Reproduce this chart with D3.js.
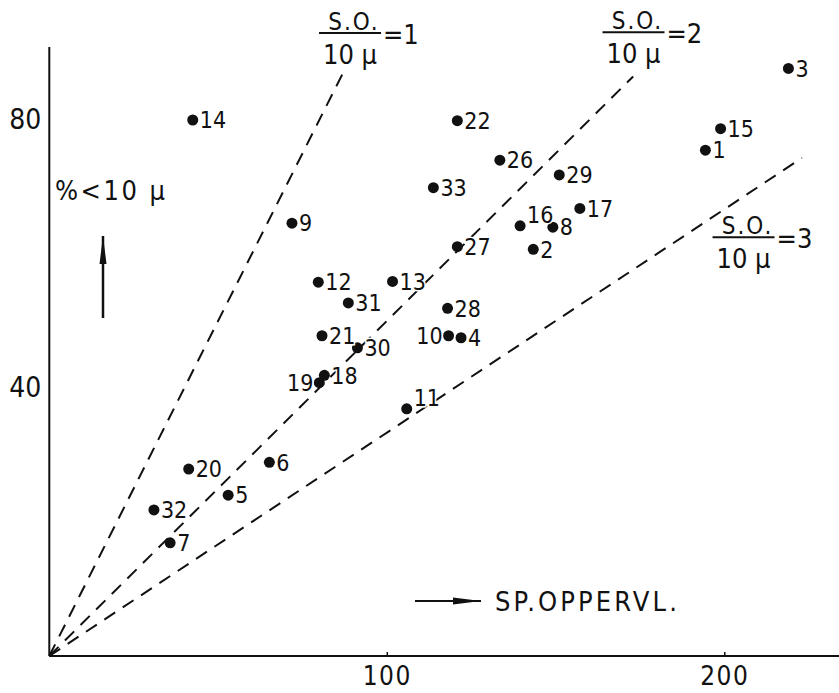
<!DOCTYPE html>
<html>
<head>
<meta charset="utf-8">
<script src="https://cdn.jsdelivr.net/npm/d3@7"></script>
<style>
  html, body { margin: 0; padding: 0; background: #fff; }
  svg { display: block; }
  text { font-family: "DejaVu Sans Condensed", "DejaVu Sans", sans-serif; font-stretch: condensed; fill: #111; }
</style>
</head>
<body>
<svg id="chart" width="839" height="693"></svg>
<script>
// ---- data ----
const sampleIds = ["1","2","3","4","5","6","7","8","9","10","11","12","13","14","15","16","17","18","19","20","21","22","26","27","28","29","30","31","32","33"];
const specSurface = [194.4,143.4,219.0,122.0,53.0,65.2,35.8,149.2,71.9,118.3,105.9,79.7,101.7,42.5,198.9,139.5,157.2,81.5,80.0,41.3,80.8,120.9,133.5,120.9,118.0,151.1,91.3,88.6,31.0,113.8];
const pctBelow10 = [75.5,60.7,87.7,47.5,24.0,28.9,16.9,64.0,64.6,47.8,36.9,55.8,55.9,80.0,78.7,64.2,66.8,41.9,40.8,27.9,47.8,79.9,74.0,61.1,51.9,71.8,46.0,52.7,21.8,69.9];
const xTicks = [100, 200];
const yTicks = [40, 80];
const ratios = [1, 2, 3];          // S.O. / 10µ
const ratioLineEndX = [87, 173, 223];
const ratioLabelAt = [[89.1, 93.0], [173.1, 93.1], [205.7, 62.5]]; // data coords of fraction bar centre
const labelsLeft = ["10", "19"];
const labelsRaised = ["11", "16"];

// ---- drawing ----
const svg = d3.select("#chart");
const W = 839;
const x = d3.scaleLinear().domain([0, 200]).range([49.3, 724.3]);
const y = d3.scaleLinear().domain([0, 80]).range([656, 120]);

// axes lines
svg.append("line").attr("x1", x(0)).attr("x2", W).attr("y1", y(0)).attr("y2", y(0))
  .attr("stroke", "#111").attr("stroke-width", 2);
svg.append("line").attr("x1", x(0)).attr("x2", x(0)).attr("y1", y(0)).attr("y2", 47)
  .attr("stroke", "#111").attr("stroke-width", 2);

const xAxis = svg.append("g").attr("transform", `translate(0,${y(0)})`)
  .call(d3.axisBottom(x).tickValues(xTicks).tickSizeInner(-4).tickSizeOuter(0).tickPadding(11).tickFormat(d3.format("d")));
xAxis.select(".domain").remove();
xAxis.selectAll(".tick line").attr("stroke", "#111").attr("stroke-width", 1.5);
xAxis.selectAll("text").attr("font-size", 26).attr("font-family", null).attr("fill", "#111").attr("letter-spacing", 1.5);

const yAxis = svg.append("g").attr("transform", `translate(${x(0)},0)`)
  .call(d3.axisLeft(y).tickValues(yTicks).tickSize(0).tickPadding(8).tickFormat(d3.format("d")));
yAxis.select(".domain").remove();
yAxis.selectAll("text").attr("font-size", 28).attr("font-family", null).attr("fill", "#111");

// ratio lines
const line = d3.line().x(d => x(d[0])).y(d => y(d[1]));
ratios.forEach((r, i) => {
  svg.append("path")
    .attr("d", line([[0, 0], [ratioLineEndX[i], ratioLineEndX[i] / r]]))
    .attr("fill", "none").attr("stroke", "#111").attr("stroke-width", 2)
    .attr("stroke-dasharray", "13,9");
});

// ratio labels
ratios.forEach((r, i) => {
  const cx = x(ratioLabelAt[i][0]), cy = y(ratioLabelAt[i][1]);
  const g = svg.append("g");
  g.append("line").attr("x1", cx - 31).attr("x2", cx + 31).attr("y1", cy).attr("y2", cy)
    .attr("stroke", "#111").attr("stroke-width", 2);
  g.append("text").attr("x", cx + 4).attr("y", cy - 3).attr("text-anchor", "middle")
    .attr("font-size", 24).attr("letter-spacing", 2).text("S.O.");
  g.append("text").attr("x", cx).attr("y", cy + 31).attr("text-anchor", "middle")
    .attr("font-size", 27).text("10 μ");
  g.append("text").attr("x", cx + 33).attr("y", cy + 11).attr("font-size", 27)
    .text("=" + r);
});

// points
const pts = sampleIds.map((id, i) => ({ id, xv: specSurface[i], yv: pctBelow10[i] }));
svg.append("g").selectAll("circle").data(pts).join("circle")
  .attr("cx", d => x(d.xv)).attr("cy", d => y(d.yv)).attr("r", 5.5).attr("fill", "#111");

svg.append("g").selectAll("text").data(pts).join("text")
  .attr("x", d => labelsLeft.includes(d.id) ? x(d.xv) - 6 : x(d.xv) + 7)
  .attr("y", d => labelsRaised.includes(d.id) ? y(d.yv) - 11 : y(d.yv))
  .attr("dy", "0.36em")
  .attr("text-anchor", d => labelsLeft.includes(d.id) ? "end" : "start")
  .attr("font-size", 23)
  .attr("stroke", "#fff").attr("stroke-width", 3).attr("paint-order", "stroke")
  .text(d => d.id);

// axis titles
svg.append("text").attr("x", 55).attr("y", 200).attr("font-size", 27)
  .attr("textLength", 110).attr("lengthAdjust", "spacing").text("%<10 μ");
svg.append("defs").append("marker").attr("id", "ah2").attr("viewBox", "0 0 10 10")
  .attr("refX", 10).attr("refY", 5).attr("markerWidth", 28).attr("markerHeight", 10)
  .attr("markerUnits", "userSpaceOnUse").attr("orient", "auto").attr("preserveAspectRatio", "none")
  .append("path").attr("d", "M0,1.5 L10,5 L0,8.5 Z").attr("fill", "#111");
svg.append("line").attr("x1", 103).attr("x2", 103).attr("y1", 318).attr("y2", 236)
  .attr("stroke", "#111").attr("stroke-width", 2.5).attr("marker-end", "url(#ah2)");
svg.append("line").attr("x1", 415).attr("x2", 481).attr("y1", 601).attr("y2", 601)
  .attr("stroke", "#111").attr("stroke-width", 2).attr("marker-end", "url(#ah2)");
svg.append("text").attr("x", 495).attr("y", 611).attr("font-size", 27)
  .attr("textLength", 182).attr("lengthAdjust", "spacing").text("SP.OPPERVL.");
</script>
</body>
</html>
